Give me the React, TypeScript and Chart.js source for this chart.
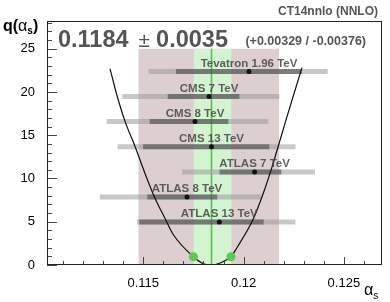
import React, { useEffect, useRef } from "react";
import { Chart, registerables } from "chart.js";
Chart.register(...registerables);

// ---- data ----
const alphaCentral = 0.1184;
const alphaSym = 0.0035;
const alphaPlus = 0.00329;
const alphaMinus = 0.00376;
const pdfName = "CT14nnlo (NNLO)";

const bandOuter = [0.11475, 0.12178];
const bandInner = [0.1175, 0.1194];
const bandTop = 25;

const curveAlpha = [0.11334, 0.1137, 0.11409, 0.11459, 0.11505, 0.11555, 0.11608, 0.1165, 0.1175, 0.118, 0.1184, 0.1188, 0.11937, 0.11967, 0.1205, 0.121, 0.1214, 0.12175, 0.12212, 0.1225, 0.12291];
const curveQ = [22.7, 19.5, 16.6, 13.7, 10.8, 7.9, 5.4, 3.5, 0.96, 0.15, 0, 0.2, 0.96, 2.0, 5.4, 8.4, 11.2, 13.9, 16.8, 19.7, 22.8];

const dotAlpha = [0.1175, 0.11937];
const dotQ = [0.96, 0.96];

const expNames = ["Tevatron 1.96 TeV", "CMS 7 TeV", "CMS 8 TeV", "CMS 13 TeV", "ATLAS 7 TeV", "ATLAS 8 TeV", "ATLAS 13 TeV"];
const expRowQ = [22.37, 19.48, 16.58, 13.66, 10.76, 7.87, 4.98];
const expAlpha = [0.12027, 0.11828, 0.11758, 0.1184, 0.12055, 0.11718, 0.11879];
const expInnerLo = [0.11663, 0.11622, 0.11532, 0.11499, 0.1188, 0.1152, 0.1148];
const expInnerHi = [0.12291, 0.11979, 0.11924, 0.12128, 0.12188, 0.11869, 0.121];
const expOuterLo = [0.11527, 0.11395, 0.11318, 0.11372, 0.11694, 0.11283, 0.11469];
const expOuterHi = [0.12419, 0.12178, 0.12123, 0.12259, 0.12356, 0.12087, 0.12258];

const xMin = 0.1102;
const xMax = 0.1269;
const yMin = 0;
const yMax = 28.2;
const xMajor = 0.005;
const xMinor = 0.001;
const yMajor = 5;
const yMinor = 1;

const FONT = "'Liberation Sans', Arial, Helvetica, sans-serif";

function fmtX(v: number) {
  return String(Number(v.toFixed(3)));
}
function isMult(v: number, s: number) {
  const r = v / s;
  return Math.abs(r - Math.round(r)) < 1e-6;
}

const decor = {
  id: "decor",
  afterDatasetsDraw(chart: any) {
    const ctx = chart.ctx;
    const xs = chart.scales.x;
    const ys = chart.scales.y;
    ctx.save();
    ctx.font = `bold 11.5px ${FONT}`;
    ctx.textAlign = "center";
    ctx.textBaseline = "alphabetic";
    ctx.fillStyle = "rgba(70,70,70,0.85)";
    expNames.forEach((n, i) => {
      const px = xs.getPixelForValue(expAlpha[i]);
      const py = ys.getPixelForValue(expRowQ[i]);
      ctx.fillText(n, px, py - 4.5);
    });
    ctx.restore();
  },
  afterDraw(chart: any) {
    const ctx = chart.ctx;
    const a = chart.chartArea;
    const xs = chart.scales.x;
    const ys = chart.scales.y;
    ctx.save();
    // ticks
    ctx.strokeStyle = "#444";
    ctx.lineWidth = 1;
    ctx.beginPath();
    for (let k = Math.ceil(xMin / xMinor - 1e-6); k * xMinor <= xMax + 1e-9; k++) {
      const v = k * xMinor;
      const px = Math.round(xs.getPixelForValue(v)) + 0.5;
      const len = isMult(v, xMajor) ? 8 : 4;
      ctx.moveTo(px, a.bottom);
      ctx.lineTo(px, a.bottom - len);
    }
    for (let k = Math.ceil(yMin / yMinor); k * yMinor <= yMax; k++) {
      const v = k * yMinor;
      const py = Math.round(ys.getPixelForValue(v)) + 0.5;
      const len = isMult(v, yMajor) ? 10 : 5;
      ctx.moveTo(a.left, py);
      ctx.lineTo(a.left + len, py);
    }
    ctx.stroke();
    // frame
    ctx.strokeStyle = "#222";
    ctx.strokeRect(Math.round(a.left) + 0.5, Math.round(a.top) + 0.5, Math.round(a.right - a.left) - 1, Math.round(a.bottom - a.top) - 1);

    // titles
    ctx.fillStyle = "#555";
    ctx.textBaseline = "alphabetic";
    ctx.textAlign = "left";
    let x = 58;
    const base = 47;
    ctx.font = `bold 23.5px ${FONT}`;
    const s1 = alphaCentral.toFixed(4);
    ctx.fillText(s1, x, base);
    x += ctx.measureText(s1).width + 10;
    ctx.font = `21px ${FONT}`;
    ctx.fillText("\u00b1", x, base);
    x += ctx.measureText("\u00b1").width + 6;
    ctx.font = `bold 23.5px ${FONT}`;
    const s2 = alphaSym.toFixed(4);
    ctx.fillText(s2, x, base);
    ctx.font = `bold 12.5px ${FONT}`;
    ctx.textAlign = "right";
    ctx.fillText(`(+${alphaPlus.toFixed(5)} / -${alphaMinus.toFixed(5)})`, 366, base - 2);

    ctx.font = `bold 12px ${FONT}`;
    ctx.textAlign = "right";
    ctx.fillText(pdfName, 378, 15);

    // y axis title q(alpha_s)
    ctx.fillStyle = "#000";
    ctx.textAlign = "left";
    let qx = 3;
    const qb = 31;
    ctx.font = `bold 16px ${FONT}`;
    ctx.fillText("q(", qx, qb);
    qx += ctx.measureText("q(").width;
    ctx.font = `16px ${FONT}`;
    ctx.fillText("\u03b1", qx, qb);
    qx += ctx.measureText("\u03b1").width;
    ctx.font = `bold 10px ${FONT}`;
    ctx.fillText("s", qx, qb + 3);
    qx += ctx.measureText("s").width;
    ctx.font = `bold 16px ${FONT}`;
    ctx.fillText(")", qx, qb);

    // x axis title alpha_s
    ctx.font = `16px ${FONT}`;
    ctx.fillText("\u03b1", 364, 295);
    const aw = ctx.measureText("\u03b1").width;
    ctx.font = `10px ${FONT}`;
    ctx.fillText("s", 364 + aw, 299);
    ctx.restore();
  },
};

export default function App() {
  const ref = useRef<HTMLCanvasElement | null>(null);
  useEffect(() => {
    if (!ref.current) return;
    const datasets: any[] = [];
    datasets.push({
      data: [{ x: bandOuter[0], y: bandTop }, { x: bandOuter[1], y: bandTop }],
      fill: "origin",
      backgroundColor: "rgb(221,206,207)",
      borderWidth: 0,
      pointRadius: 0,
      showLine: true,
      order: 20,
    });
    datasets.push({
      data: [{ x: bandInner[0], y: bandTop }, { x: bandInner[1], y: bandTop }],
      fill: "origin",
      backgroundColor: "rgb(212,243,209)",
      borderWidth: 0,
      pointRadius: 0,
      showLine: true,
      order: 19,
    });
    datasets.push({
      data: [{ x: alphaCentral, y: 0 }, { x: alphaCentral, y: bandTop }],
      borderColor: "rgb(70,205,60)",
      borderWidth: 1.6,
      pointRadius: 0,
      showLine: true,
      fill: false,
      order: 18,
    });
    expNames.forEach((_, i) => {
      datasets.push({
        data: [{ x: expOuterLo[i], y: expRowQ[i] }, { x: expOuterHi[i], y: expRowQ[i] }],
        borderColor: "rgba(157,157,157,0.56)",
        borderWidth: 5,
        borderCapStyle: "butt",
        pointRadius: 0,
        showLine: true,
        fill: false,
        order: 15,
      });
      datasets.push({
        data: [{ x: expInnerLo[i], y: expRowQ[i] }, { x: expInnerHi[i], y: expRowQ[i] }],
        borderColor: "rgba(50,50,50,0.5)",
        borderWidth: 5,
        borderCapStyle: "butt",
        pointRadius: 0,
        showLine: true,
        fill: false,
        order: 14,
      });
    });
    datasets.push({
      data: curveAlpha.map((v, i) => ({ x: v, y: curveQ[i] })),
      borderColor: "#111",
      borderWidth: 1.2,
      pointRadius: 0,
      showLine: true,
      fill: false,
      cubicInterpolationMode: "monotone",
      order: 10,
    });
    datasets.push({
      data: dotAlpha.map((v, i) => ({ x: v, y: dotQ[i] })),
      backgroundColor: "rgb(95,200,85)",
      borderWidth: 0,
      pointRadius: 4.5,
      showLine: false,
      order: 9,
    });
    datasets.push({
      data: expAlpha.map((v, i) => ({ x: v, y: expRowQ[i] })),
      backgroundColor: "#111",
      borderWidth: 0,
      pointRadius: 2.5,
      showLine: false,
      order: 8,
    });

    const chart = new Chart(ref.current, {
      type: "scatter",
      data: { datasets },
      plugins: [decor],
      options: {
        animation: false,
        responsive: false,
        devicePixelRatio: 1,
        layout: { padding: { left: 0, right: 8, top: 21, bottom: 0 } },
        plugins: { legend: { display: false }, tooltip: { enabled: false } },
        scales: {
          x: {
            type: "linear",
            min: xMin,
            max: xMax,
            grid: { display: false },
            border: { display: false },
            afterFit: (s: any) => {
              s.height = 37;
            },
            ticks: {
              stepSize: xMajor,
              includeBounds: false,
              padding: 3,
              color: "#000",
              font: { family: FONT, size: 13 },
              maxRotation: 0,
              autoSkip: false,
              callback: (v: any) => (isMult(Number(v), xMajor) ? fmtX(Number(v)) : ""),
            },
          },
          y: {
            type: "linear",
            min: yMin,
            max: yMax,
            grid: { display: false },
            border: { display: false },
            afterFit: (s: any) => {
              s.width = 47;
            },
            ticks: {
              stepSize: yMajor,
              includeBounds: false,
              padding: 4,
              color: "#000",
              font: { family: FONT, size: 13 },
              autoSkip: false,
              callback: (v: any) => (isMult(Number(v), yMajor) ? String(Math.round(Number(v))) : ""),
            },
          },
        },
      },
    } as any);
    return () => chart.destroy();
  }, []);
  return (
    <div style={{ position: "absolute", left: 0, top: 0, width: 390, height: 302 }}>
      <canvas ref={ref} width={390} height={302} style={{ width: 390, height: 302, display: "block" }} />
    </div>
  );
}
